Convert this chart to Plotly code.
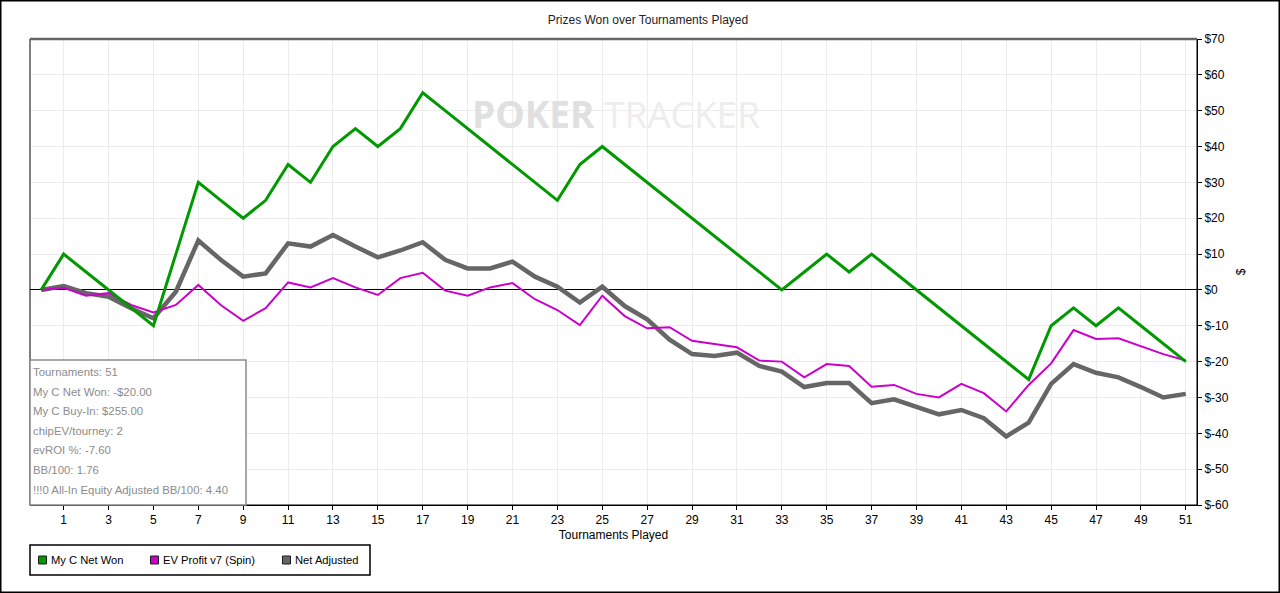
import plotly.graph_objects as go

tourneys = list(range(0, 52))

net_won = [0, 10, 5, 0, -5, -10, 10, 30, 25, 20, 25, 35, 30, 40, 45, 40, 45, 55,
           50, 45, 40, 35, 30, 25, 35, 40, 35, 30, 25, 20, 15, 10, 5, 0, 5, 10,
           5, 10, 5, 0, -5, -10, -15, -20, -25, -10, -5, -10, -5, -10, -15, -20]

ev_profit = [0, 0.6, -1.6, -0.9, -4.2, -6.3, -4.2, 1.4, -4.2, -8.6, -5.1, 2.1,
             0.7, 3.3, 0.7, -1.4, 3.3, 4.8, -0.2, -1.6, 0.7, 1.9, -2.6, -5.6,
             -9.8, -1.6, -7.3, -10.7, -10.4, -14.2, -15.1, -16.0, -19.7, -20.0,
             -24.4, -20.7, -21.2, -27.0, -26.5, -29.0, -30.0, -26.2, -28.8,
             -33.9, -26.5, -20.5, -11.2, -13.7, -13.5, -15.6, -17.9, -19.7]

net_adjusted = [0, 1.1, -0.9, -1.9, -5.1, -7.9, -0.5, 13.8, 8.4, 3.7, 4.6, 13.0,
                12.1, 15.3, 12.1, 9.1, 11.0, 13.3, 8.4, 6.0, 6.0, 7.9, 3.7, 0.9,
                -3.5, 0.9, -4.5, -8.2, -13.9, -17.9, -18.4, -17.5, -21.2, -22.8,
                -27.1, -26.0, -26.0, -31.6, -30.5, -32.7, -34.7, -33.5, -35.8,
                -40.9, -37.0, -26.2, -20.7, -23.1, -24.4, -27.1, -30.0, -29.0]

x_ticks = list(range(1, 52, 2))
y_ticks = [70, 60, 50, 40, 30, 20, 10, 0, -10, -20, -30, -40, -50, -60]
y_labels = ["$70", "$60", "$50", "$40", "$30", "$20", "$10", "$0", "$-10",
            "$-20", "$-30", "$-40", "$-50", "$-60"]

series_names = ["My C Net Won", "EV Profit v7 (Spin)", "Net Adjusted"]

stats = ["Tournaments: 51", "My C Net Won: -$20.00", "My C Buy-In: $255.00",
         "chipEV/tourney: 2", "evROI %: -7.60", "BB/100: 1.76",
         "!!!0 All-In Equity Adjusted BB/100: 4.40"]

GREEN = "#009900"
MAGENTA = "#cc00cc"
GRAY = "#666666"
FONT = "Liberation Sans, Arial, sans-serif"

# plot area in pixels: x 30..1197, y 39..505
PW, PH = 1167, 466


def px(x):
    return (x - 30) / PW


def py(y):
    return (505 - y) / PH


fig = go.Figure()

# lines (gray at bottom, green on top)
fig.add_trace(go.Scatter(x=tourneys, y=net_adjusted, mode="lines", name=series_names[2],
                         line=dict(color=GRAY, width=4.5), showlegend=False))
fig.add_trace(go.Scatter(x=tourneys, y=ev_profit, mode="lines", name=series_names[1],
                         line=dict(color=MAGENTA, width=2), showlegend=False))
fig.add_trace(go.Scatter(x=tourneys, y=net_won, mode="lines", name=series_names[0],
                         line=dict(color=GREEN, width=3), showlegend=False))

# plot frame
fig.add_shape(type="rect", xref="paper", yref="paper", x0=0, x1=1, y0=0, y1=1,
              line=dict(color="black", width=1), layer="above")
fig.add_shape(type="line", xref="paper", yref="paper", x0=0, x1=1, y0=1, y1=1,
              line=dict(color="#666666", width=2.5), layer="above")
# outer border of image
fig.add_shape(type="rect", xref="paper", yref="paper",
              x0=px(0.75), x1=px(1279.25), y0=py(592.25), y1=py(0.75),
              line=dict(color="black", width=1.5))

# watermark
fig.add_annotation(text="<b>POKER</b>", xref="paper", yref="paper",
                   x=px(533), y=py(86), showarrow=False,
                   font=dict(family="Open Sans, Liberation Sans", size=37, color="#e0e0e0"))
fig.add_annotation(text="TRACKER", xref="paper", yref="paper",
                   x=px(682), y=py(86), showarrow=False,
                   font=dict(family="Open Sans, Liberation Sans", size=37, color="#ededed"))

# stats box
fig.add_shape(type="rect", xref="paper", yref="paper",
              x0=0, x1=px(246), y0=0, y1=py(360),
              line=dict(color="#8a8a8a", width=1.5), fillcolor="white", layer="above")
for i, s in enumerate(stats):
    fig.add_annotation(text=s, xref="paper", yref="paper", xanchor="left", yanchor="middle",
                       x=px(31), y=py(372 + i * 19.6), showarrow=False,
                       font=dict(family=FONT, size=11.4, color="#8c8c8c"))

# legend box drawn by hand to match the swatch layout
fig.add_shape(type="rect", xref="paper", yref="paper",
              x0=px(30), x1=px(370), y0=py(575), y1=py(545),
              line=dict(color="black", width=1.5), fillcolor="white")
for name, col, sx in zip(series_names, [GREEN, MAGENTA, GRAY], [38.5, 150.5, 282.5]):
    fig.add_shape(type="rect", xref="paper", yref="paper",
                  x0=px(sx), x1=px(sx + 8), y0=py(564), y1=py(556),
                  line=dict(color="#1a1a1a", width=1), fillcolor=col)
    fig.add_annotation(text=name, xref="paper", yref="paper", xanchor="left",
                       yanchor="middle", x=px(sx + 10), y=py(560), showarrow=False,
                       font=dict(family=FONT, size=11.2, color="black"))

fig.update_layout(
    width=1280, height=593,
    margin=dict(l=30, r=83, t=39, b=88),
    paper_bgcolor="white", plot_bgcolor="white",
    font=dict(family=FONT, size=12, color="black"),
    title=dict(text="Prizes Won over Tournaments Played", x=648 / 1280, xanchor="center",
               y=1 - 20 / 593, yanchor="middle", font=dict(size=12, color="#222222")),
    showlegend=False,
)

fig.update_xaxes(range=[-0.5, 51.5], tickvals=x_ticks, ticks="outside", ticklen=4,
                 tickcolor="black", showgrid=True, gridcolor="#ececec", zeroline=False,
                 title=dict(text="Tournaments Played", standoff=4, font=dict(size=12)),
                 showline=True, linecolor="black")
fig.update_yaxes(range=[-60, 70], side="right", tickvals=y_ticks, ticktext=y_labels,
                 ticks="outside", ticklen=4, tickcolor="black", showgrid=True,
                 gridcolor="#ececec", zeroline=True, zerolinecolor="black", zerolinewidth=1,
                 title=dict(text="$", standoff=8, font=dict(size=12)),
                 showline=True, linecolor="black")

fig.write_html("out.html", config={"displayModeBar": False},
               post_script="document.body.style.margin='0';")
